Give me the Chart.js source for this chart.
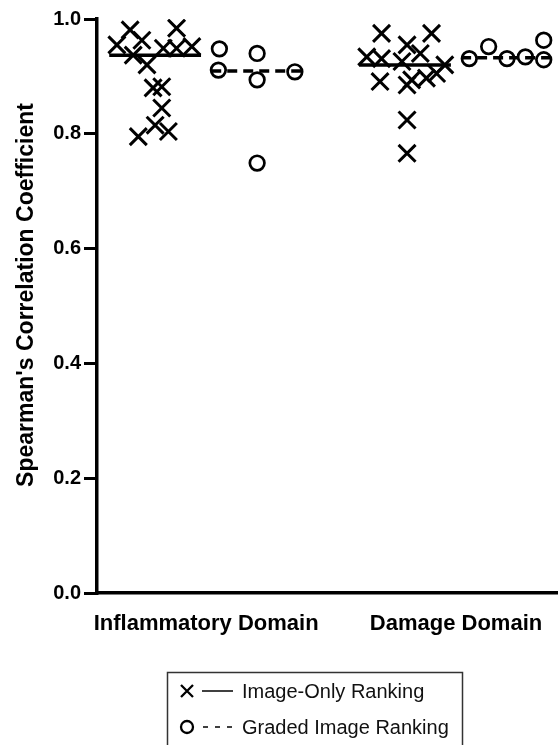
<!DOCTYPE html>
<html>
<head>
<meta charset="utf-8">
<script src="https://cdn.jsdelivr.net/npm/chart.js@4.4.0/dist/chart.umd.min.js"></script>
<style>
  html, body { margin: 0; padding: 0; background: #fff; overflow: hidden; }
  #wrap { width: 558px; height: 745px; overflow: hidden; }
  canvas { display: block; }
</style>
</head>
<body>
<div id="wrap"><canvas id="c" width="558" height="745"></canvas></div>
<script>
// ---- data ----
const groupLabels = ['Inflammatory Domain', 'Damage Domain'];
const groupTickPositions = [0.5, 2.95];
const columnPositions = [0, 1, 2.45, 3.45];   // Infl X, Infl O, Damage X, Damage O
const yTicks = [0, 0.2, 0.4, 0.6, 0.8, 1.0];

const inflImageOnly   = [0.955, 0.981, 0.963, 0.984, 0.949, 0.949, 0.952, 0.937, 0.920, 0.880, 0.882, 0.845, 0.815, 0.804, 0.795];
const inflImageOnlyJitter = [-0.375, -0.245, -0.13, 0.21, 0.08, 0.21, 0.36, -0.215, -0.08, -0.02, 0.065, 0.065, 0, 0.13, -0.165];

const inflGraded      = [0.948, 0.911, 0.940, 0.894, 0.908, 0.749];
const inflGradedJitter = [-0.37, -0.38, 0, 0, 0.37, 0];

const dmgImageOnly    = [0.975, 0.975, 0.955, 0.934, 0.931, 0.940, 0.926, 0.920, 0.891, 0.894, 0.897, 0.905, 0.885, 0.824, 0.766];
const dmgImageOnlyJitter = [-0.23, 0.26, 0.02, -0.375, -0.23, 0.15, -0.03, 0.39, -0.245, 0.065, 0.21, 0.31, 0.02, 0.02, 0.02];

const dmgGraded       = [0.931, 0.952, 0.931, 0.934, 0.963, 0.929];
const dmgGradedJitter = [-0.37, -0.18, 0, 0.18, 0.36, 0.36];

const legendLabels = ['Image-Only Ranking', 'Graded Image Ranking'];

// ---- helpers ----
function median(arr) {
  const s = [...arr].sort((a, b) => a - b);
  const m = Math.floor(s.length / 2);
  return s.length % 2 ? s[m] : (s[m - 1] + s[m]) / 2;
}
function pts(col, jit, vals) {
  return vals.map((v, i) => ({ x: columnPositions[col] + jit[i], y: v }));
}
const HALF = 0.45;
function medLine(col, vals) {
  const m = median(vals);
  return [{ x: columnPositions[col] - HALF, y: m }, { x: columnPositions[col] + HALF, y: m }];
}

const FONT = "'Liberation Sans', Arial, Helvetica, sans-serif";

const crossStyle = { pointStyle: 'crossRot', pointRadius: 12, pointBorderWidth: 3, borderColor: '#000', backgroundColor: 'transparent', showLine: false };
const circleStyle = { pointStyle: 'circle', pointRadius: 7.3, pointBorderWidth: 2.7, borderColor: '#000', backgroundColor: 'rgba(0,0,0,0)', showLine: false };
const solidLine = { type: 'line', borderColor: '#000', borderWidth: 3.5, pointRadius: 0, fill: false };
const dashLine = { type: 'line', borderColor: '#000', borderWidth: 3.5, pointRadius: 0, fill: false, borderDash: [10, 6] };

const legendPlugin = {
  id: 'customLegend',
  afterDraw(chart) {
    const ctx = chart.ctx;
    ctx.save();
    ctx.strokeStyle = '#333';
    ctx.lineWidth = 1.5;
    ctx.strokeRect(167.5, 672.5, 295, 120);
    ctx.strokeStyle = '#000';
    ctx.fillStyle = '#111';
    const y1 = 691, y2 = 727, mx = 187;
    ctx.lineWidth = 2.3;
    ctx.beginPath();
    ctx.moveTo(mx - 6, y1 - 6); ctx.lineTo(mx + 6, y1 + 6);
    ctx.moveTo(mx + 6, y1 - 6); ctx.lineTo(mx - 6, y1 + 6);
    ctx.stroke();
    ctx.lineWidth = 1.5;
    ctx.beginPath();
    ctx.moveTo(202, y1); ctx.lineTo(233, y1);
    ctx.stroke();
    ctx.lineWidth = 2.3;
    ctx.beginPath();
    ctx.arc(mx, y2, 6, 0, Math.PI * 2);
    ctx.stroke();
    ctx.lineWidth = 1.5;
    ctx.setLineDash([5, 7]);
    ctx.beginPath();
    ctx.moveTo(203, y2); ctx.lineTo(233, y2);
    ctx.stroke();
    ctx.setLineDash([]);
    ctx.font = '20px ' + FONT;
    ctx.textBaseline = 'middle';
    ctx.textAlign = 'left';
    ctx.fillText(legendLabels[0], 242, y1 + 1);
    ctx.fillText(legendLabels[1], 242, y2 + 1);
    // y-axis title
    ctx.fillStyle = '#000';
    ctx.font = 'bold 23px ' + FONT;
    ctx.textAlign = 'center';
    ctx.translate(27, 295);
    ctx.rotate(-Math.PI / 2);
    ctx.fillText("Spearman's Correlation Coefficient", 0, 0);
    ctx.restore();
  }
};

new Chart(document.getElementById('c'), {
  type: 'scatter',
  data: {
    datasets: [
      Object.assign({ label: 'Infl line', data: medLine(0, inflImageOnly), order: 1 }, solidLine),
      Object.assign({ label: 'Infl graded line', data: medLine(1, inflGraded), order: 1 }, dashLine),
      Object.assign({ label: 'Dmg line', data: medLine(2, dmgImageOnly), order: 1 }, solidLine),
      Object.assign({ label: 'Dmg graded line', data: medLine(3, dmgGraded), order: 1 }, dashLine),
      Object.assign({ label: 'Infl image-only', data: pts(0, inflImageOnlyJitter, inflImageOnly), order: 2 }, crossStyle),
      Object.assign({ label: 'Infl graded', data: pts(1, inflGradedJitter, inflGraded), order: 2 }, circleStyle),
      Object.assign({ label: 'Dmg image-only', data: pts(2, dmgImageOnlyJitter, dmgImageOnly), order: 2 }, crossStyle),
      Object.assign({ label: 'Dmg graded', data: pts(3, dmgGradedJitter, dmgGraded), order: 2 }, circleStyle)
    ]
  },
  options: {
    responsive: false,
    animation: false,
    events: [],
    layout: { autoPadding: false, padding: { top: 19, right: 0, left: 0, bottom: 0 } },
    plugins: { legend: { display: false }, tooltip: { enabled: false }, title: { display: false } },
    scales: {
      x: {
        type: 'linear',
        min: -0.57,
        max: 3.95,
        afterBuildTicks(scale) { scale.ticks = groupTickPositions.map(v => ({ value: v })); },
        afterFit(scale) { scale.height = 152; scale.paddingLeft = 0; scale.paddingRight = 0; },
        ticks: {
          autoSkip: false, maxRotation: 0, minRotation: 0,
          padding: 18,
          color: '#000',
          font: { family: FONT, size: 22, weight: 'bold' },
          callback: (v, i) => groupLabels[i]
        },
        grid: { display: true, drawOnChartArea: false, drawTicks: false, lineWidth: 0 },
        border: { display: true, color: '#000', width: 3.5 }
      },
      y: {
        type: 'linear',
        min: 0,
        max: 1,
        afterBuildTicks(scale) { scale.ticks = yTicks.map(v => ({ value: v })); },
        afterFit(scale) { scale.width = 97; scale.paddingTop = 0; scale.paddingBottom = 0; },
        ticks: {
          padding: 3,
          color: '#000',
          font: { family: FONT, size: 20, weight: 'bold' },
          callback: v => Number(v).toFixed(1)
        },
        grid: { display: true, drawOnChartArea: false, drawTicks: true, tickLength: 13, lineWidth: 3, color: '#000', tickColor: '#000', tickWidth: 3 },
        border: { display: true, color: '#000', width: 3.5 }
      }
    }
  },
  plugins: [legendPlugin]
});
</script>
</body>
</html>
